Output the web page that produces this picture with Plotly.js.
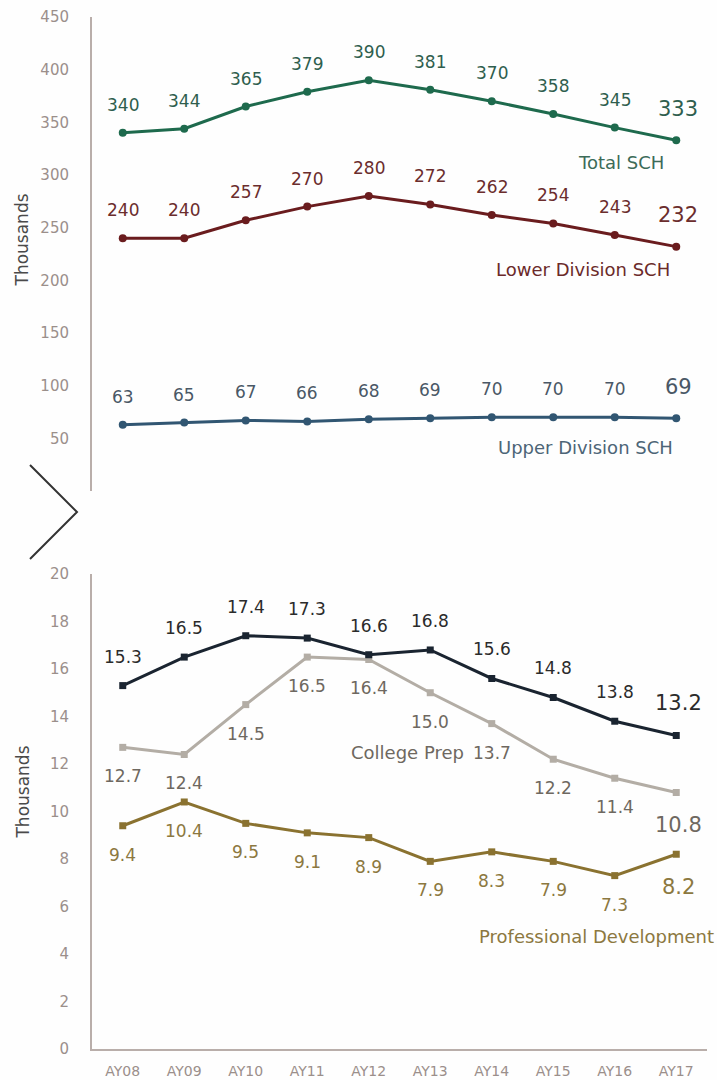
<!DOCTYPE html>
<html>
<head>
<meta charset="utf-8">
<script src="https://cdn.plot.ly/plotly-3.0.1.min.js"></script>
<style>html,body{margin:0;padding:0;background:#fefefe;}#chart{width:717px;height:1080px;}</style>
</head>
<body>
<div id="chart"></div>
<script>
const years = ['AY08','AY09','AY10','AY11','AY12','AY13','AY14','AY15','AY16','AY17'];
const totalSCH = [340,344,365,379,390,381,370,358,345,333];
const lowerSCH = [240,240,257,270,280,272,262,254,243,232];
const upperSCH = [63,65,67,66,68,69,70,70,70,69];
const topLine = [15.3,16.5,17.4,17.3,16.6,16.8,15.6,14.8,13.8,13.2];
const collegePrep = [12.7,12.4,14.5,16.5,16.4,15.0,13.7,12.2,11.4,10.8];
const profDev = [9.4,10.4,9.5,9.1,8.9,7.9,8.3,7.9,7.3,8.2];
const topTicks = [50,100,150,200,250,300,350,400,450];
const bottomTicks = [0,2,4,6,8,10,12,14,16,18,20];

const FONT = 'DejaVu Sans, sans-serif';
const tickColor = '#9b8f8b';
const axisColor = '#b9aeaa';

function line(x, y, color, xa, ya, sym, msize){
  return {x:x, y:y, type:'scatter', mode:'lines+markers', xaxis:xa, yaxis:ya,
    line:{color:color, width:3}, marker:{color:color, size:msize, symbol:sym},
    hoverinfo:'skip', showlegend:false};
}
const traces = [
  line(years, totalSCH, '#1e6a4d', 'x2', 'y2', 'circle', 8),
  line(years, lowerSCH, '#6a1c1e', 'x2', 'y2', 'circle', 8),
  line(years, upperSCH, '#315672', 'x2', 'y2', 'circle', 8),
  line(years, profDev, '#8a7230', 'x', 'y', 'square', 7),
  line(years, collegePrep, '#b3ada5', 'x', 'y', 'square', 7),
  line(years, topLine, '#1a2430', 'x', 'y', 'square', 7)
];

const annotations = [];
function labels(vals, xa, ya, color, shift, fmt){
  vals.forEach((v,i)=>{
    const last = i === vals.length-1;
    annotations.push({x:years[i], y:v, xref:xa, yref:ya, text:fmt(v), showarrow:false,
      xshift: last ? 2 : 0,
      yshift: last ? shift*1.13 : shift, font:{family:FONT, size: last ? 21 : 17, color:color}});
  });
}
const int = v => String(v);
const dec = v => v.toFixed(1);
labels(totalSCH, 'x2', 'y2', '#2f5e4e', 28, int);
labels(lowerSCH, 'x2', 'y2', '#6b2d2d', 28, int);
labels(upperSCH, 'x2', 'y2', '#4a5866', 28, int);
labels(topLine, 'x', 'y', '#2b2b2b', 29, dec);
labels(collegePrep, 'x', 'y', '#6e6860', -29, dec);
labels(profDev, 'x', 'y', '#8c7840', -29, dec);

function nameLabel(text, x, y, xa, ya, color){
  annotations.push({x:x, y:y, xref:xa, yref:ya, text:text, showarrow:false, xanchor:'center',
    font:{family:FONT, size:18, color:color}});
}
nameLabel('Total SCH', 8.1, 312, 'x2', 'y2', '#3c6b58');
nameLabel('Lower Division SCH', 7.48, 210, 'x2', 'y2', '#6b2a2a');
nameLabel('Upper Division SCH', 7.52, 41, 'x2', 'y2', '#4d6577');
nameLabel('College Prep', 4.63, 12.5, 'x', 'y', '#6e6860');
nameLabel('Professional Development', 7.7, 4.72, 'x', 'y', '#8c7840');

// y-axis titles
annotations.push({xref:'paper', yref:'paper', x:-0.1122, y:0.7844, xanchor:'center', yanchor:'middle',
  text:'Thousands', textangle:-90, showarrow:false, font:{family:FONT, size:17, color:'#4a4a4a'}});
annotations.push({xref:'paper', yref:'paper', x:-0.1122, y:0.2495, xanchor:'center', yanchor:'middle',
  text:'Thousands', textangle:-90, showarrow:false, font:{family:FONT, size:17, color:'#4a4a4a'}});

const layout = {
  width:717, height:1080,
  margin:{l:92, r:10, t:17, b:31},
  paper_bgcolor:'#fefefe', plot_bgcolor:'rgba(0,0,0,0)',
  font:{family:FONT},
  xaxis:{domain:[0,1], anchor:'y', type:'category', range:[-0.5,9.5], showline:true,
    linecolor:axisColor, linewidth:2, showgrid:false, zeroline:false, ticks:'',
    ticklabelstandoff:8, tickfont:{family:FONT, size:14, color:tickColor}},
  yaxis:{domain:[0,0.4603], anchor:'x', range:[0,20], tickvals:bottomTicks, showline:true,
    linecolor:axisColor, linewidth:2, showgrid:false, zeroline:false, ticks:'',
    ticklabelstandoff:18, tickfont:{family:FONT, size:15, color:tickColor}},
  xaxis2:{domain:[0,1], anchor:'y2', type:'category', range:[-0.5,9.5], visible:false},
  yaxis2:{domain:[0.5407,1], anchor:'x2', range:[0,450], tickvals:topTicks, showline:true,
    linecolor:axisColor, linewidth:2, showgrid:false, zeroline:false, ticks:'',
    ticklabelstandoff:18, tickfont:{family:FONT, size:15, color:tickColor}},
  annotations:annotations,
  shapes:[{type:'path', xref:'paper', yref:'paper',
    path:'M -0.1008,0.5659 L -0.0244,0.5203 L -0.1008,0.4748',
    line:{color:'#333333', width:2}}]
};
Plotly.newPlot('chart', traces, layout, {staticPlot:true});
</script>
</body>
</html>
